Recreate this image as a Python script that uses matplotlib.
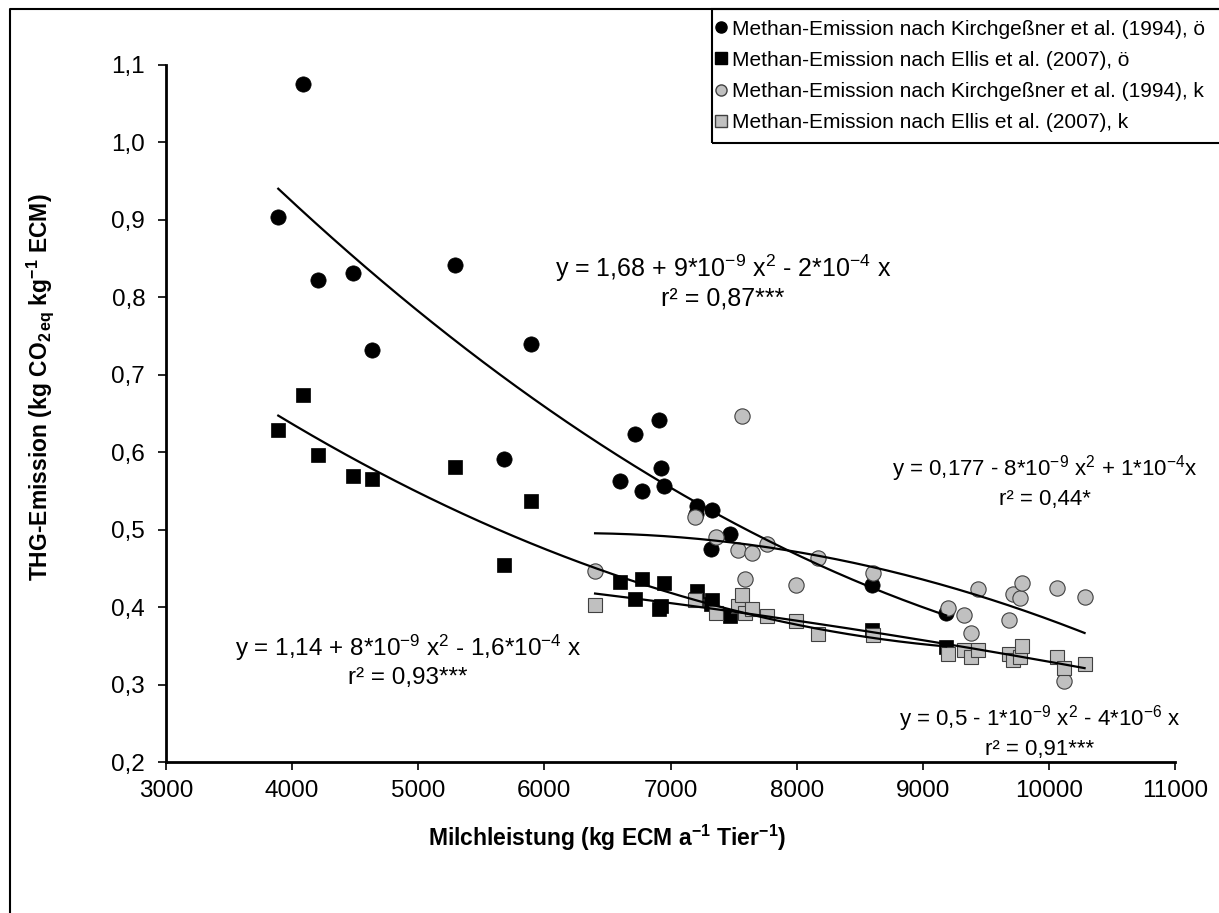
import numpy as np
import matplotlib
matplotlib.use("Agg")
import matplotlib.pyplot as plt
from matplotlib.patches import Rectangle
from matplotlib.lines import Line2D

plt.rcParams['font.family'] = ['Liberation Sans', 'DejaVu Sans']
plt.rcParams['mathtext.fontset'] = 'custom'
plt.rcParams['mathtext.rm'] = 'Liberation Sans'
plt.rcParams['mathtext.it'] = 'Liberation Sans:italic'
plt.rcParams['mathtext.bf'] = 'Liberation Sans:bold'

# Betriebe ökologisch (ö)
milch_oe = [3890, 4083, 4207, 4480, 4636, 5294, 5682, 5894, 6600, 6716, 6774,
            6910, 6923, 6951, 7200, 7210, 7322, 7332, 7473, 8600, 9185]
kirch_oe = [0.904, 1.075, 0.823, 0.831, 0.732, 0.842, 0.591, 0.740, 0.563, 0.624, 0.550,
            0.642, 0.579, 0.557, 0.520, 0.531, 0.475, 0.526, 0.494, 0.429, 0.392]
ellis_oe = [0.629, 0.674, 0.596, 0.569, 0.565, 0.581, 0.454, 0.537, 0.432, 0.411, 0.436,
            0.398, 0.402, 0.431, 0.410, 0.421, 0.404, 0.409, 0.388, 0.370, 0.349]

# Betriebe konventionell (k)
milch_k = [6402, 7195, 7358, 7538, 7564, 7590, 7649, 7764, 7998, 8171, 8608,
           9198, 9330, 9384, 9442, 9686, 9714, 9773, 9785, 10064, 10123, 10283]
kirch_k = [0.446, 0.517, 0.490, 0.474, 0.647, 0.436, 0.470, 0.481, 0.428, 0.463, 0.444,
           0.399, 0.390, 0.366, 0.424, 0.383, 0.417, 0.412, 0.431, 0.425, 0.305, 0.413]
ellis_k = [0.403, 0.409, 0.393, 0.401, 0.416, 0.392, 0.397, 0.389, 0.382, 0.365, 0.364,
           0.340, 0.345, 0.335, 0.344, 0.339, 0.332, 0.336, 0.350, 0.336, 0.322, 0.327]

labels = ['Methan-Emission nach Kirchgeßner et al. (1994), ö',
          'Methan-Emission nach Ellis et al. (2007), ö',
          'Methan-Emission nach Kirchgeßner et al. (1994), k',
          'Methan-Emission nach Ellis et al. (2007), k']

W, H = 1219, 913
fig = plt.figure(figsize=(W / 100, H / 100), dpi=100)
ax = fig.add_axes([166 / W, 1 - 762 / H, (1175 - 166) / W, (762 - 65) / H])

grau = '#c0c0c0'
ax.plot(milch_oe, kirch_oe, 'o', color='black', ms=11, mec='black', mew=0.5, zorder=3)
ax.plot(milch_oe, ellis_oe, 's', color='black', ms=10.5, mec='black', mew=0.5, zorder=3)
ax.plot(milch_k, kirch_k, 'o', color=grau, ms=11, mec='#404040', mew=0.8, zorder=3)
ax.plot(milch_k, ellis_k, 's', color=grau, ms=10.5, mec='#404040', mew=0.8, zorder=3)

# Polynomische Trendlinien 2. Ordnung
for xs, ys in [(milch_oe, kirch_oe), (milch_oe, ellis_oe), (milch_k, kirch_k), (milch_k, ellis_k)]:
    p = np.polyfit(xs, ys, 2)
    xx = np.linspace(min(xs), max(xs), 200)
    ax.plot(xx, np.polyval(p, xx), color='black', lw=1.6, zorder=4)

ax.set_xlim(3000, 11000)
ax.set_ylim(0.2, 1.1)
ax.set_xticks(np.arange(3000, 11001, 1000))
ax.set_yticks(np.arange(0.2, 1.101, 0.1))
ax.set_yticklabels([f'{v:.1f}'.replace('.', ',') for v in np.arange(0.2, 1.101, 0.1)])
ax.tick_params(labelsize=17.5, width=1.2, length=6, direction='out', colors='black')
ax.tick_params(axis='x', pad=7)
ax.tick_params(axis='y', pad=9)
for s in ['top', 'right']:
    ax.spines[s].set_visible(False)
for s in ['left', 'bottom']:
    ax.spines[s].set_linewidth(2)


def gleichung(x, y, zeile1, zeile2, fs):
    fig.text(x / W, 1 - y / H, zeile1, ha='center', va='center', fontsize=fs)
    fig.text(x / W, 1 - (y + 30) / H, zeile2, ha='center', va='center', fontsize=fs)


gleichung(723, 268, 'y = 1,68 + 9*10$^{-9}$ x$^{2}$ - 2*10$^{-4}$ x', 'r² = 0,87***', 18)
gleichung(1045, 469, 'y = 0,177 - 8*10$^{-9}$ x$^{2}$ + 1*10$^{-4}$x', 'r² = 0,44*', 16)
gleichung(408, 648, 'y = 1,14 + 8*10$^{-9}$ x$^{2}$ - 1,6*10$^{-4}$ x', 'r² = 0,93***', 17.5)
gleichung(1040, 719, 'y = 0,5 - 1*10$^{-9}$ x$^{2}$ - 4*10$^{-6}$ x', 'r² = 0,91***', 16)

fig.text(40 / W, 1 - 387 / H, r'THG-Emission (kg CO$_\mathbf{2\,eq}$ kg$^\mathbf{-1}$ ECM)', rotation=90,
         ha='center', va='center', fontsize=16.5, fontweight='bold')
fig.text(607 / W, 1 - 838 / H, r'Milchleistung (kg ECM a$^\mathbf{-1}$ Tier$^\mathbf{-1}$)',
         ha='center', va='center', fontsize=16.5, fontweight='bold')

# Legende
handles = [Line2D([], [], ls='', marker='o', color='black', ms=8),
           Line2D([], [], ls='', marker='s', color='black', ms=8),
           Line2D([], [], ls='', marker='o', color=grau, mec='#404040', ms=8),
           Line2D([], [], ls='', marker='s', color=grau, mec='#404040', ms=8)]
fig.legend(handles, labels, loc='upper left', bbox_to_anchor=(698 / W, 1 - 3 / H), frameon=False,
           fontsize=15, handlelength=0.6, handletextpad=0.25, labelspacing=0.58, borderpad=0.3)
fig.patches.append(Rectangle((712 / W, 1 - 143 / H), 0.5, 134 / H, transform=fig.transFigure,
                             fill=False, ec='black', lw=1.5))

# Rahmen um die Grafik
fig.add_artist(Line2D([10 / W, 10 / W, 1.01], [-0.01, 1 - 9 / H, 1 - 9 / H], transform=fig.transFigure,
                      color='black', lw=1.5))

fig.savefig('out.png', dpi=100)
